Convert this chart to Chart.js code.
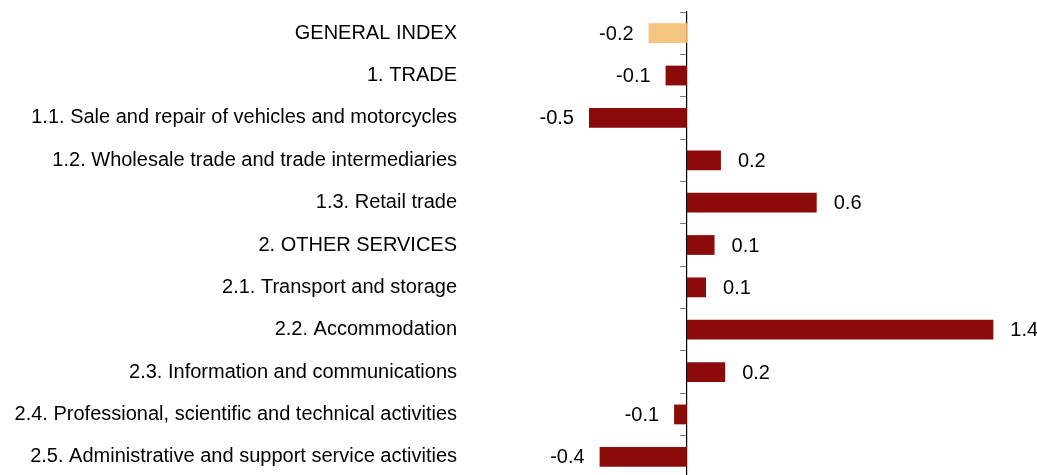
<!DOCTYPE html>
<html>
<head>
<meta charset="utf-8">
<script src="https://cdn.jsdelivr.net/npm/chart.js@4/dist/chart.umd.min.js"></script>
<style>
    html, body { margin: 0; padding: 0; background: #fff; overflow: hidden; }
    #wrap { position: relative; width: 1037px; height: 490px; }
</style>
</head>
<body>
<div id="wrap"><canvas id="chart"></canvas></div>
<script>
// Categories (top to bottom) and values
const categories = [
    'GENERAL INDEX',
    '1. TRADE',
    '1.1. Sale and repair of vehicles and motorcycles',
    '1.2. Wholesale trade and trade intermediaries',
    '1.3. Retail trade',
    '2. OTHER SERVICES',
    '2.1. Transport and storage',
    '2.2. Accommodation',
    '2.3. Information and communications',
    '2.4. Professional, scientific and technical activities',
    '2.5. Administrative and support service activities'
];
const values = [-0.18, -0.10, -0.46, 0.16, 0.61, 0.13, 0.09, 1.44, 0.18, -0.06, -0.41];

const RED = '#8b0a0a';
const ORANGE = '#f5c580';
const FONT = '"Liberation Sans", Arial, Helvetica, sans-serif';

const barColors = categories.map((c, i) => i === 0 ? ORANGE : RED);

// value labels next to bar ends
const valueLabels = {
    id: 'valueLabels',
    afterDatasetsDraw(chart) {
        const ctx = chart.ctx;
        const meta = chart.getDatasetMeta(0);
        ctx.save();
        ctx.font = '20px ' + FONT;
        ctx.fillStyle = '#000';
        ctx.textBaseline = 'middle';
        meta.data.forEach((bar, i) => {
            const v = values[i];
            const txt = v.toFixed(1);
            if (v >= 0) {
                ctx.textAlign = 'left';
                ctx.fillText(txt, bar.x + 17, bar.y + 1);
            } else {
                ctx.textAlign = 'right';
                ctx.fillText(txt, bar.x - 15, bar.y + 1);
            }
        });
        ctx.restore();
    }
};

new Chart(document.getElementById('chart'), {
    type: 'bar',
    data: {
        labels: categories,
        datasets: [{
            data: values,
            backgroundColor: barColors,
            borderWidth: 0,
            barPercentage: 0.467,
            categoryPercentage: 1
        }]
    },
    options: {
        indexAxis: 'y',
        responsive: true,
        maintainAspectRatio: false,
        animation: false,
        layout: { padding: { top: 9, bottom: 10, left: 0, right: 0 } },
        plugins: {
            legend: { display: false },
            tooltip: { enabled: false }
        },
        scales: {
            x: {
                display: false,
                min: -1.08,
                max: 1.645
            },
            y: {
                offset: true,
                grid: { display: false, drawTicks: false },
                border: { display: false },
                ticks: {
                    color: '#000',
                    padding: 0,
                    font: { family: FONT, size: 20 }
                },
                afterFit: (scale) => { scale.width = 457; }
            },
            y2: {
                type: 'category',
                axis: 'y',
                position: { x: 0 },
                offset: true,
                grid: {
                    display: true,
                    offset: true,
                    drawOnChartArea: false,
                    drawTicks: true,
                    tickLength: 6,
                    color: '#7a7a7a'
                },
                border: { display: true, color: '#000', width: 1.2 },
                ticks: { display: false }
            }
        }
    },
    plugins: [valueLabels]
});
</script>
</body>
</html>
